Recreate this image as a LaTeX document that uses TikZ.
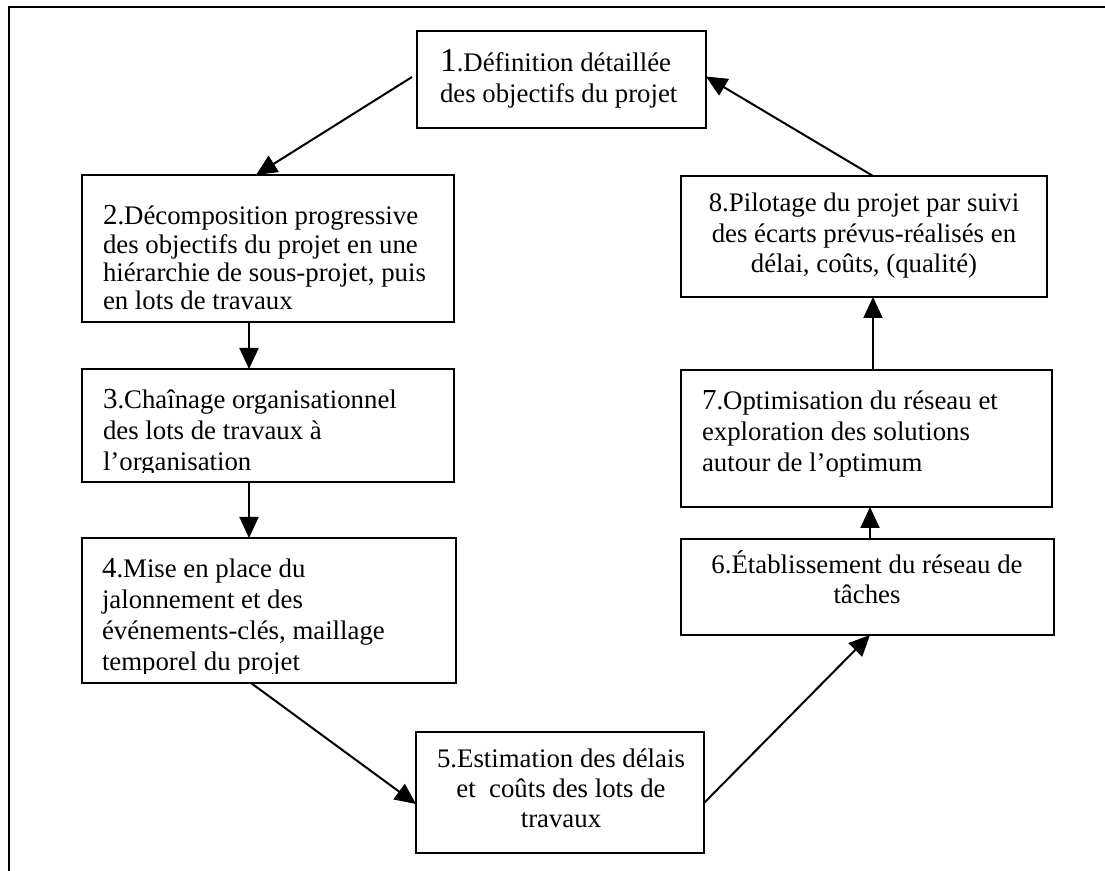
\documentclass[tikz,border=0pt]{standalone}
\usepackage{fontspec}
\setmainfont{Liberation Serif}
\usetikzlibrary{arrows.meta,calc}
\newcommand\boxtextL[2]{\vtop{\baselineskip=#1\relax\halign{##\hfil\cr#2\crcr}}}
\newcommand\boxtextC[2]{\vtop{\baselineskip=#1\relax\halign{\hfil##\hfil\cr#2\crcr}}}
\newcommand\numbig[1]{{\fontsize{16.75pt}{15.5pt}\selectfont #1}}
\newcommand\nummid[1]{{\fontsize{14.5pt}{15.5pt}\selectfont #1}}
\begin{document}
\begin{tikzpicture}[x=0.5pt,y=-0.5pt,
  box/.style={draw, line width=1.2pt, inner sep=0pt, outer sep=0pt},
  txt/.style={inner sep=0pt, outer sep=0pt, font=\fontsize{13.4pt}{15.5pt}\selectfont},
  arr/.style={-{Triangle[length=10.5pt,width=9.5pt]}, line width=1pt},
  frameline/.style={line width=1pt}]
\useasboundingbox (0,0) rectangle (1105,871);
\draw[frameline] (9,871) -- (9,7) -- (1105,7);

% boxes
\node[box, minimum width=144.5pt, minimum height=48.5pt] (b1) at (561.5,79.5) {};
\node[box, minimum width=186pt,   minimum height=73.5pt] (b2) at (268,248.5) {};
\node[box, minimum width=186pt,   minimum height=56.5pt] (b3) at (268,425.5) {};
\node[box, minimum width=187pt,   minimum height=72.5pt] (b4) at (269,610.5) {};
\node[box, minimum width=144pt,   minimum height=60.5pt] (b5) at (560,792.5) {};
\node[box, minimum width=186.5pt, minimum height=48pt]   (b6) at (867.5,587) {};
\node[box, minimum width=185.5pt, minimum height=68.5pt] (b7) at (866.5,438.5) {};
\node[box, minimum width=183pt,   minimum height=60.5pt] (b8) at (864,236.5) {};

% texts
\node[txt, anchor=base west] (t1) at (440,72)
  {\boxtextL{15.5pt}{\numbig{1}.Définition détaillée\cr des objectifs du projet}};
\node[txt, anchor=base west] (t2) at (103,225)
  {\boxtextL{14.15pt}{\nummid{2}.Décomposition progressive\cr des objectifs du projet en une\cr hiérarchie de sous-projet, puis\cr en lots de travaux}};
\begin{scope}
  \clip (82,369) rectangle (454,472.5);
  \node[txt, anchor=base west] (t3) at (103,409)
    {\boxtextL{15.5pt}{\nummid{3}.Chaînage organisationnel\cr des lots de travaux à\cr l’organisation}};
\end{scope}
\begin{scope}
  \clip (82,538) rectangle (456,673.5);
  \node[txt, anchor=base west] (t4) at (102,578)
    {\boxtextL{15.5pt}{\nummid{4}.Mise en place du\cr jalonnement et des\cr événements-clés, maillage\cr temporel du projet}};
\end{scope}
\node[txt, anchor=base] (t5) at (561,768)
  {\boxtextC{15pt}{5.Estimation des délais\cr et\ \ coûts des lots de\cr travaux}};
\node[txt, anchor=base] (t6) at (867,574)
  {\boxtextC{14.75pt}{6.Établissement du réseau de\cr tâches}};
\node[txt, anchor=base west] (t7) at (702,410)
  {\boxtextL{15.5pt}{\nummid{7}.Optimisation du réseau et\cr exploration des solutions\cr autour de l’optimum}};
\node[txt, anchor=base] (t8) at (864,212)
  {\boxtextC{15.25pt}{8.Pilotage du projet par suivi\cr des écarts prévus-réalisés en\cr délai, coûts, (qualité)}};

% connectors
\draw[arr] ($(b1.west)+(-5,-2.5)$) -- ($(b2.north)+(-12,0)$);
\draw[arr] ($(b2.south)+(-19,0)$) -- ($(b3.north)+(-19,0)$);
\draw[arr] ($(b3.south)+(-19,0)$) -- ($(b4.north)+(-20,0)$);
\draw[arr] ($(b4.south)+(-18,0)$) -- ($(b5.west)+(0,11.5)$);
\draw[arr] ($(b5.east)+(0,10.5)$) -- ($(b6.south)+(2.5,0)$);
\draw[arr] ($(b6.north)+(2.5,0)$) -- ($(b7.south)+(3.5,0)$);
\draw[arr] ($(b7.north)+(6.5,0)$) -- ($(b8.south)+(9,0)$);
\draw[arr] ($(b8.north)+(9,0)$) -- ($(b1.east)+(0,-3)$);
\end{tikzpicture}
\end{document}
